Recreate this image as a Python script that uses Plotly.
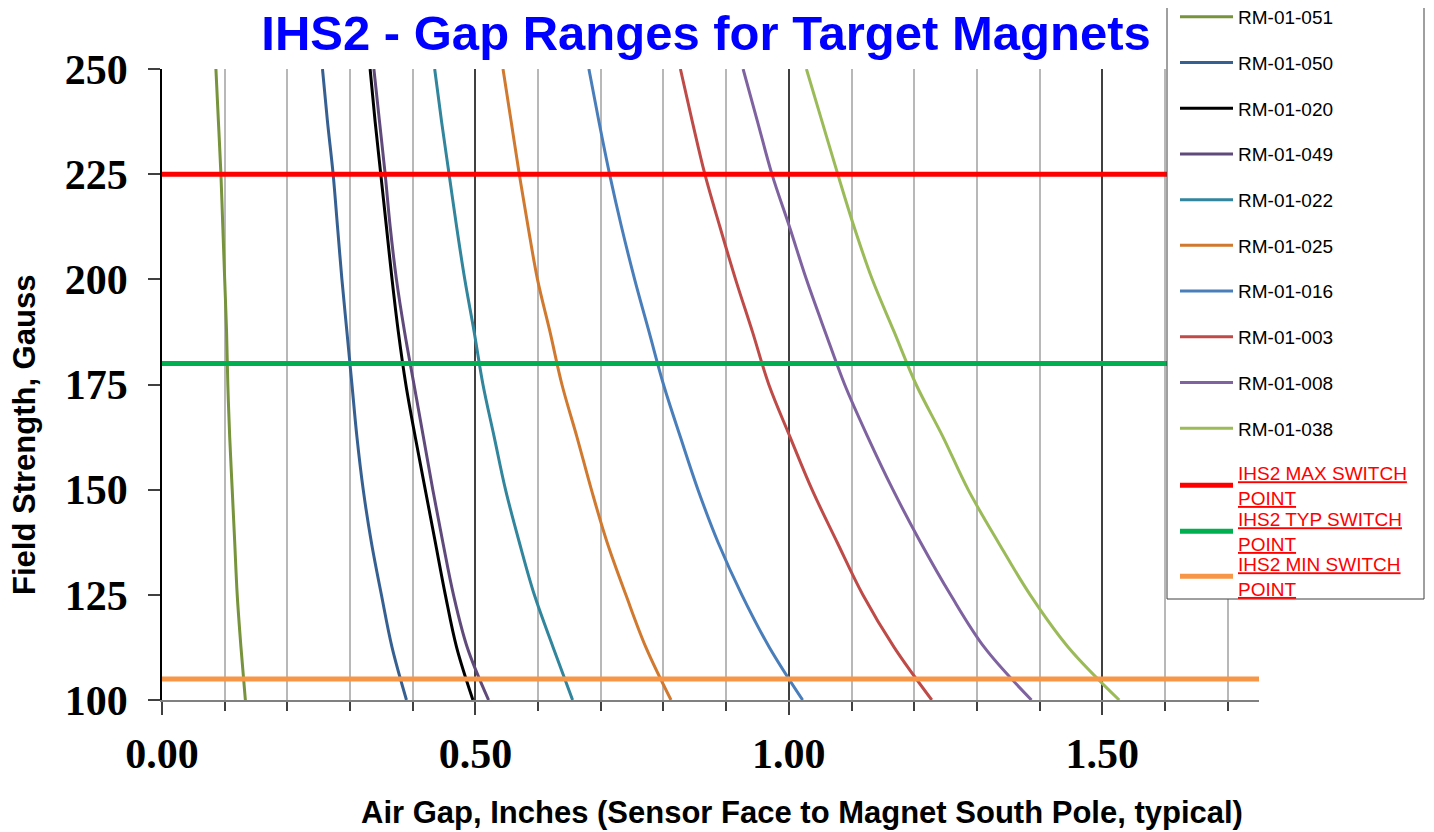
import plotly.graph_objects as go

# Field strength levels (Gauss) at which each magnet's air gap was read
gauss = [250, 237.5, 225, 212.5, 200, 187.5, 175, 162.5, 150, 137.5, 125, 112.5, 100]

# Air gap (inches) for each magnet at the gauss levels above
rm_01_051 = [0.086, 0.090, 0.094, 0.097, 0.100, 0.103, 0.105, 0.108, 0.112, 0.116, 0.120, 0.126, 0.133]
rm_01_050 = [0.256, 0.264, 0.273, 0.280, 0.287, 0.295, 0.303, 0.311, 0.321, 0.334, 0.350, 0.367, 0.390]
rm_01_020 = [0.332, 0.340, 0.349, 0.358, 0.367, 0.377, 0.389, 0.404, 0.420, 0.436, 0.452, 0.470, 0.496]
rm_01_049 = [0.338, 0.347, 0.356, 0.364, 0.374, 0.387, 0.402, 0.417, 0.432, 0.448, 0.465, 0.487, 0.521]
rm_01_022 = [0.435, 0.446, 0.458, 0.470, 0.483, 0.498, 0.512, 0.530, 0.548, 0.570, 0.594, 0.624, 0.655]
rm_01_025 = [0.544, 0.557, 0.570, 0.584, 0.599, 0.619, 0.638, 0.662, 0.685, 0.710, 0.740, 0.772, 0.812]
rm_01_016 = [0.681, 0.697, 0.714, 0.733, 0.754, 0.777, 0.800, 0.827, 0.855, 0.887, 0.925, 0.969, 1.022]
rm_01_003 = [0.827, 0.846, 0.866, 0.890, 0.915, 0.942, 0.968, 1.002, 1.037, 1.077, 1.118, 1.168, 1.228]
rm_01_008 = [0.927, 0.950, 0.973, 1.001, 1.028, 1.058, 1.089, 1.126, 1.166, 1.210, 1.258, 1.312, 1.387]
rm_01_038 = [1.028, 1.053, 1.078, 1.104, 1.133, 1.168, 1.203, 1.246, 1.286, 1.334, 1.385, 1.446, 1.527]

magnet_names = ["RM-01-051", "RM-01-050", "RM-01-020", "RM-01-049", "RM-01-022",
                "RM-01-025", "RM-01-016", "RM-01-003", "RM-01-008", "RM-01-038"]
magnet_gaps = [rm_01_051, rm_01_050, rm_01_020, rm_01_049, rm_01_022,
               rm_01_025, rm_01_016, rm_01_003, rm_01_008, rm_01_038]
magnet_colors = ["#77933C", "#376092", "#000000", "#604A7B", "#31859C",
                 "#D0792F", "#4A7EBB", "#BE4B48", "#7F63A1", "#9BBB59"]

# Switch point thresholds (Gauss)
switch_names = ["IHS2 MAX SWITCH<br>POINT", "IHS2 TYP SWITCH<br>POINT", "IHS2 MIN SWITCH<br>POINT"]
switch_gauss = [225, 180, 105]
switch_colors = ["#FF0000", "#00B050", "#F79646"]
switch_gap_span = [0.0, 1.76]

# Page has an 8px body margin; figure sized to fit the 1434x832 window.
OFF = 8
W, H = 1434 - OFF, 832 - OFF
L, T = 162 - OFF, 69 - OFF
pw, ph = 1097, 631
R, B = W - L - pw, H - T - ph


def px2x(p):
    """page pixel x -> paper x"""
    return (p - OFF - L) / pw


def py2y(p):
    """page pixel y -> paper y"""
    return (T + ph - (p - OFF)) / ph


serif = "Liberation Serif, Times New Roman, serif"
sans = "Liberation Sans, Arial, sans-serif"

fig = go.Figure()

for name, gaps, color in zip(magnet_names, magnet_gaps, magnet_colors):
    fig.add_trace(go.Scatter(
        x=gaps, y=gauss, mode="lines", name=name,
        line=dict(color=color, width=3, shape="spline", smoothing=1.0),
        legend="legend", legendgroup=name,
    ))

switch_legends = ["legend2", "legend3", "legend4"]
switch_legend_tops = [454, 500, 545]
for name, g, color, lg in zip(switch_names, switch_gauss, switch_colors, switch_legends):
    parts = name.split("<br>")
    label = "<br>".join(
        '<span style="text-decoration:underline">' + p + "</span>" for p in parts)
    fig.add_trace(go.Scatter(
        x=switch_gap_span, y=[g, g], mode="lines", name=label,
        line=dict(color=color, width=5),
        legend=lg,
    ))

legend_common = dict(
    xanchor="left", yanchor="top",
    bgcolor="rgba(0,0,0,0)", borderwidth=0, itemwidth=53, maxheight=800,
)

layout_legends = {}
for lg, top in zip(switch_legends, switch_legend_tops):
    layout_legends[lg] = dict(
        x=px2x(1175), y=py2y(top),
        font=dict(family=sans, size=19, color="#FF0000"),
        **legend_common,
    )

fig.update_layout(
    width=W, height=H,
    margin=dict(l=L, r=R, t=T, b=B, autoexpand=False),
    paper_bgcolor="white", plot_bgcolor="white",
    showlegend=True,
    title=dict(
        text="IHS2 - Gap Ranges for Target Magnets",
        font=dict(family=sans, size=49, color="#0000FF", weight="bold"),
        xref="container", x=(706 - OFF) / W, xanchor="center",
        yref="container", y=1 - (33 - OFF) / H, yanchor="middle",
    ),
    xaxis=dict(
        range=[0, 1.75], dtick=0.5, tick0=0, tickformat=".2f",
        showgrid=True, gridcolor="#404040", gridwidth=1.5,
        minor=dict(dtick=0.1, showgrid=True, gridcolor="#B8B8B8", gridwidth=2,
                   ticks="outside", ticklen=9, tickcolor="#404040", tickwidth=1.5),
        ticks="outside", ticklen=13, tickcolor="#404040", tickwidth=1.5,
        showline=True, linecolor="#808080", linewidth=2,
        zeroline=False,
        tickfont=dict(family=serif, size=42, color="black", weight="bold"),
        ticklabelstandoff=3,
    ),
    yaxis=dict(
        range=[100, 250], dtick=25, tick0=100,
        showgrid=False, zeroline=False,
        ticks="outside", ticklen=12, tickcolor="#404040", tickwidth=1.5,
        showline=True, linecolor="black", linewidth=1.5,
        tickfont=dict(family=serif, size=42, color="black", weight="bold"),
        ticklabelstandoff=12,
    ),
    legend=dict(
        x=px2x(1175), y=py2y(-2),
        font=dict(family=sans, size=19, color="black"),
        traceorder="grouped", tracegroupgap=18,
        **legend_common,
    ),
    **layout_legends,
    shapes=[dict(
        type="rect", xref="paper", yref="paper",
        x0=px2x(1167), x1=px2x(1424), y0=py2y(599), y1=py2y(3),
        line=dict(color="#404040", width=1), fillcolor="white", layer="above",
    )],
    annotations=[
        dict(text="<b>Air Gap, Inches (Sensor Face to Magnet South Pole, typical)</b>",
             xref="paper", yref="paper", x=px2x(802), y=py2y(812),
             xanchor="center", yanchor="middle", showarrow=False,
             font=dict(family=sans, size=31, color="black")),
        dict(text="<b>Field Strength, Gauss</b>",
             xref="paper", yref="paper", x=px2x(25), y=py2y(435),
             xanchor="center", yanchor="middle", showarrow=False, textangle=-90,
             font=dict(family=sans, size=31, color="black")),
    ],
)

fig.write_html("out.html")
